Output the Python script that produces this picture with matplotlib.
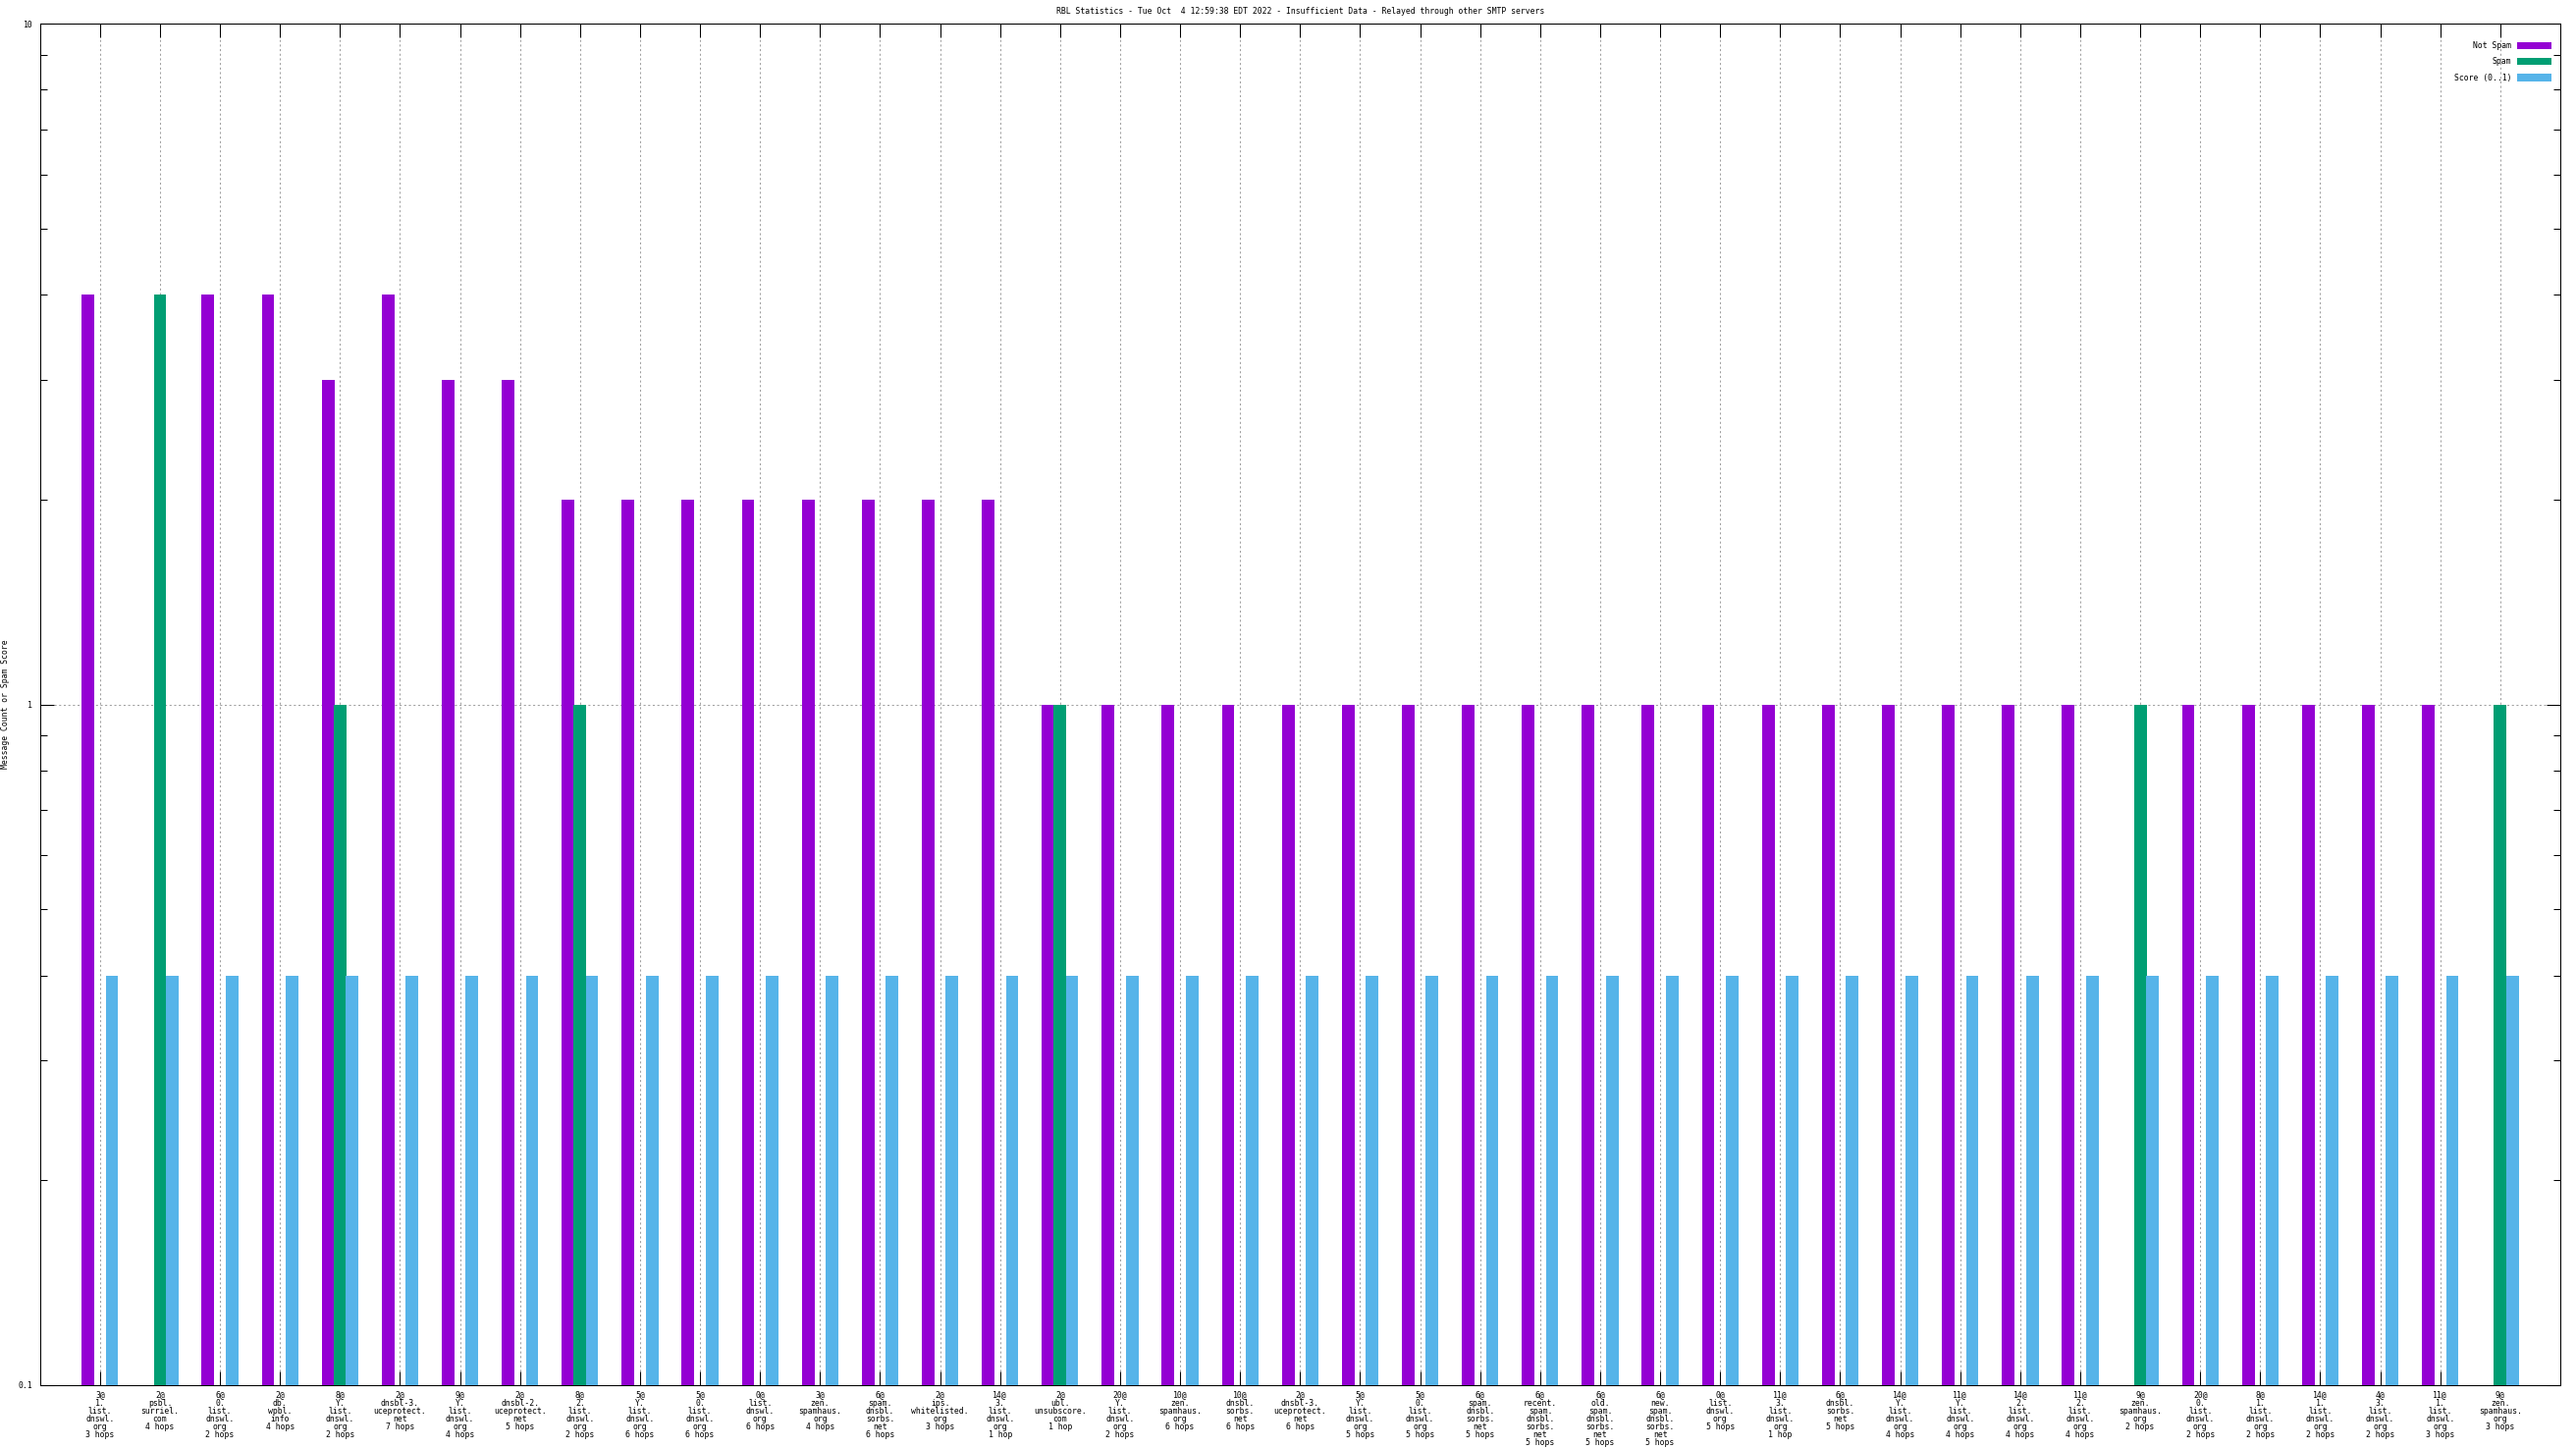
import numpy as np
import matplotlib
matplotlib.use("Agg")
import matplotlib.pyplot as plt
from matplotlib.ticker import LogLocator, NullFormatter, FuncFormatter

plt.rcParams['font.family'] = ['DejaVu Sans Mono', 'DejaVu Sans']
plt.rcParams['font.size'] = 5.9

# ---------------- data ----------------
categories = [
    "3@|1.|list.|dnswl.|org|3 hops",
    "2@|psbl.|surriel.|com|4 hops",
    "6@|0.|list.|dnswl.|org|2 hops",
    "2@|db.|wpbl.|info|4 hops",
    "8@|Y.|list.|dnswl.|org|2 hops",
    "2@|dnsbl-3.|uceprotect.|net|7 hops",
    "9@|Y.|list.|dnswl.|org|4 hops",
    "2@|dnsbl-2.|uceprotect.|net|5 hops",
    "8@|2.|list.|dnswl.|org|2 hops",
    "5@|Y.|list.|dnswl.|org|6 hops",
    "5@|0.|list.|dnswl.|org|6 hops",
    "0@|list.|dnswl.|org|6 hops",
    "3@|zen.|spamhaus.|org|4 hops",
    "6@|spam.|dnsbl.|sorbs.|net|6 hops",
    "2@|ips.|whitelisted.|org|3 hops",
    "14@|3.|list.|dnswl.|org|1 hop",
    "2@|ubl.|unsubscore.|com|1 hop",
    "20@|Y.|list.|dnswl.|org|2 hops",
    "10@|zen.|spamhaus.|org|6 hops",
    "10@|dnsbl.|sorbs.|net|6 hops",
    "2@|dnsbl-3.|uceprotect.|net|6 hops",
    "5@|Y.|list.|dnswl.|org|5 hops",
    "5@|0.|list.|dnswl.|org|5 hops",
    "6@|spam.|dnsbl.|sorbs.|net|5 hops",
    "6@|recent.|spam.|dnsbl.|sorbs.|net|5 hops",
    "6@|old.|spam.|dnsbl.|sorbs.|net|5 hops",
    "6@|new.|spam.|dnsbl.|sorbs.|net|5 hops",
    "0@|list.|dnswl.|org|5 hops",
    "11@|3.|list.|dnswl.|org|1 hop",
    "6@|dnsbl.|sorbs.|net|5 hops",
    "14@|Y.|list.|dnswl.|org|4 hops",
    "11@|Y.|list.|dnswl.|org|4 hops",
    "14@|2.|list.|dnswl.|org|4 hops",
    "11@|2.|list.|dnswl.|org|4 hops",
    "9@|zen.|spamhaus.|org|2 hops",
    "20@|0.|list.|dnswl.|org|2 hops",
    "8@|1.|list.|dnswl.|org|2 hops",
    "14@|1.|list.|dnswl.|org|2 hops",
    "4@|3.|list.|dnswl.|org|2 hops",
    "11@|1.|list.|dnswl.|org|3 hops",
    "9@|zen.|spamhaus.|org|3 hops",
]

not_spam = [4, 0, 4, 4, 3, 4, 3, 3, 2, 2, 2, 2, 2, 2, 2, 2, 1, 1, 1, 1, 1,
            1, 1, 1, 1, 1, 1, 1, 1, 1, 1, 1, 1, 1, 0, 1, 1, 1, 1, 1, 0]
spam = [0, 4, 0, 0, 1, 0, 0, 0, 1, 0, 0, 0, 0, 0, 0, 0, 1, 0, 0, 0, 0,
        0, 0, 0, 0, 0, 0, 0, 0, 0, 0, 0, 0, 0, 1, 0, 0, 0, 0, 0, 1]
score = [0.4] * 41

series_names = ["Not Spam", "Spam", "Score (0..1)"]
colors = ["#9400D3", "#009E73", "#56B4E9"]

title = "RBL Statistics - Tue Oct  4 12:59:38 EDT 2022 - Insufficient Data - Relayed through other SMTP servers"
ylabel = "Message Count or Spam Score"

# ---------------- figure ----------------
W, H = 2624, 1476
fig = plt.figure(figsize=(W / 100, H / 100), dpi=100)
left, right, top, bottom = 40.7, 2608, 24.3, 1411
ax = fig.add_axes([left / W, 1 - bottom / H, (right - left) / W, (bottom - top) / H])

ax.set_yscale('log')
base = 0.1
x = np.arange(len(categories))
width = 0.21
offsets = [-0.2, 0.0, 0.2]
handles = []
for vals, off, col, name in zip([not_spam, spam, score], offsets, colors, series_names):
    v = np.array(vals, dtype=float)
    m = v > 0
    b = ax.bar(x[m] + off, v[m] - base, bottom=base, width=width, color=col,
               linewidth=0, label=name)
    handles.append(b)

ax.set_xlim(-1, len(categories))
ax.set_ylim(0.1, 10)
ax.set_xticks(x)
ax.set_xticklabels([c.replace("|", "\n") for c in categories], linespacing=0.86)

ax.yaxis.set_major_locator(LogLocator(base=10, numticks=10))
ax.yaxis.set_minor_locator(LogLocator(base=10, subs=np.arange(2, 10), numticks=20))
ax.yaxis.set_minor_formatter(NullFormatter())
ax.yaxis.set_major_formatter(FuncFormatter(lambda v, p: f"{v:g}"))

lw = 0.75
ax.tick_params(axis='both', which='major', direction='in', length=10.4, width=lw,
               top=True, right=True, color='black')
ax.tick_params(axis='y', which='minor', direction='in', length=5.0, width=lw,
               right=True, left=True)
ax.tick_params(axis='x', which='major', pad=4.0)
ax.tick_params(axis='y', which='major', pad=5.3)
ax.tick_params(axis='x', which='minor', bottom=False, top=False)

for s in ax.spines.values():
    s.set_linewidth(lw)
    s.set_color('black')

ax.set_axisbelow(True)
ax.grid(True, which='major', axis='both', color='#a0a0a0', linewidth=lw,
        linestyle=(0, (2, 2.5)))
ax.grid(False, which='minor')

fig.text(((left + right) / 2) / W, 1 - 12 / H, title, ha='center', va='center')
fig.text(5.5 / W, 1 - ((top + bottom) / 2) / H, ylabel, rotation=90,
         ha='center', va='center')

leg = ax.legend(handles=handles, labels=series_names, loc='upper right',
                bbox_to_anchor=(2599 / W, 1 - 42.0 / H),
                bbox_transform=fig.transFigure, frameon=False,
                markerfirst=False, handlelength=4.27, handleheight=1.0,
                handletextpad=0.73, labelspacing=0.9, borderpad=0,
                borderaxespad=0)

fig.savefig("out.png", dpi=100)
